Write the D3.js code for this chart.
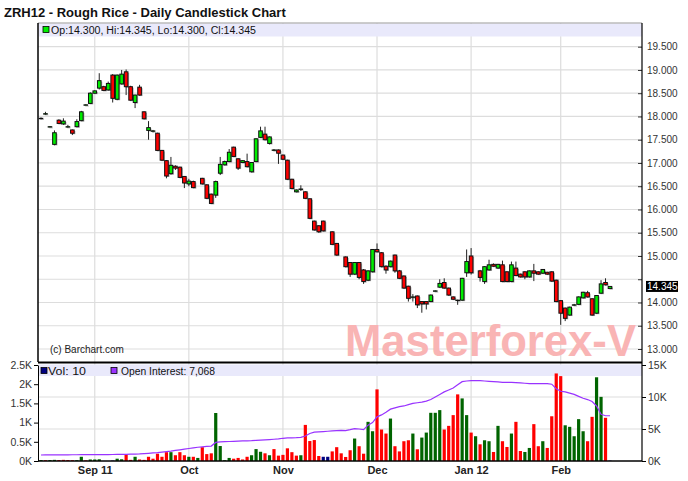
<!DOCTYPE html>
<html><head><meta charset="utf-8">
<script src="https://cdn.jsdelivr.net/npm/d3@7"></script>
<style>
body{margin:0;background:#fff;}
svg{display:block;font-family:"Liberation Sans",Arial,sans-serif;}
</style>
</head><body>
<svg id="chart" width="688" height="481"></svg>
<script>
// ---------- DATA ----------
const dates = [
"2011-08-16","2011-08-17","2011-08-18","2011-08-19","2011-08-22","2011-08-23","2011-08-24","2011-08-25","2011-08-26","2011-08-29","2011-08-30","2011-08-31",
"2011-09-01","2011-09-02","2011-09-06","2011-09-07","2011-09-08","2011-09-09","2011-09-12","2011-09-13","2011-09-14","2011-09-15","2011-09-16","2011-09-19","2011-09-20","2011-09-21","2011-09-22","2011-09-23","2011-09-26","2011-09-27","2011-09-28","2011-09-29","2011-09-30",
"2011-10-03","2011-10-04","2011-10-05","2011-10-06","2011-10-07","2011-10-10","2011-10-11","2011-10-12","2011-10-13","2011-10-14","2011-10-17","2011-10-18","2011-10-19","2011-10-20","2011-10-21","2011-10-24","2011-10-25","2011-10-26","2011-10-27","2011-10-28","2011-10-31",
"2011-11-01","2011-11-02","2011-11-03","2011-11-04","2011-11-07","2011-11-08","2011-11-09","2011-11-10","2011-11-11","2011-11-14","2011-11-15","2011-11-16","2011-11-17","2011-11-18","2011-11-21","2011-11-22","2011-11-23","2011-11-25","2011-11-28","2011-11-29","2011-11-30",
"2011-12-01","2011-12-02","2011-12-05","2011-12-06","2011-12-07","2011-12-08","2011-12-09","2011-12-12","2011-12-13","2011-12-14","2011-12-15","2011-12-16","2011-12-19","2011-12-20","2011-12-21","2011-12-22","2011-12-23","2011-12-27","2011-12-28","2011-12-29","2011-12-30",
"2012-01-03","2012-01-04","2012-01-05","2012-01-06","2012-01-09","2012-01-10","2012-01-11","2012-01-12","2012-01-13","2012-01-17","2012-01-18","2012-01-19","2012-01-20","2012-01-23","2012-01-24","2012-01-25","2012-01-26","2012-01-27","2012-01-30","2012-01-31",
"2012-02-01","2012-02-02","2012-02-03","2012-02-06","2012-02-07","2012-02-08","2012-02-09","2012-02-10","2012-02-13","2012-02-14","2012-02-15","2012-02-16"];

const open  = [17.96,18.05,17.78,17.40,17.92,17.84,17.78,17.71,17.78,17.91,18.25,18.28,18.50,18.61,18.64,18.57,18.89,18.37,18.70,18.96,18.64,18.30,18.63,18.10,17.70,17.69,17.64,17.27,17.05,16.77,16.93,16.91,16.71,
 16.55,16.60,null,16.67,16.53,16.33,16.31,16.78,16.96,17.03,17.34,17.09,17.01,17.03,16.81,17.03,17.55,17.62,17.42,17.28,17.28,17.17,
 17.06,16.65,16.38,16.44,16.38,16.23,15.75,15.65,15.75,null,15.52,15.27,null,14.98,14.86,14.61,14.86,14.70,14.48,14.66,
 15.14,15.07,14.78,14.77,15.02,14.68,14.57,14.35,14.12,14.14,14.02,14.02,14.02,14.25,14.33,14.43,14.31,14.12,14.05,14.05,14.64,
 15.00,null,14.68,14.45,14.70,14.82,14.74,14.81,14.66,14.45,14.74,14.61,14.66,14.55,14.68,14.66,14.63,14.65,14.66,14.48,
 14.04,13.88,13.73,13.95,13.96,14.10,14.21,14.08,13.77,14.20,14.43,14.30];
const high  = [17.98,18.10,17.79,17.70,17.94,17.96,17.82,17.72,17.94,18.12,18.26,18.52,18.56,18.93,18.66,18.75,18.91,18.90,19.00,19.01,18.66,18.47,18.68,18.11,17.90,17.71,17.65,17.28,17.06,17.13,16.95,16.92,16.72,
 16.66,16.62,null,16.68,16.54,16.34,16.62,17.13,17.05,17.30,17.35,17.10,17.06,17.20,17.02,17.53,17.78,17.78,17.57,17.30,17.29,17.18,
 17.07,16.66,16.43,16.52,16.39,16.24,15.76,15.66,15.76,null,15.53,15.28,null,14.99,14.87,14.87,14.87,14.72,14.69,15.15,
 15.27,15.08,14.80,14.90,15.03,14.70,14.58,14.36,14.18,14.15,14.03,14.03,14.17,14.26,14.50,14.52,14.32,14.13,14.06,14.53,15.14,
 15.17,null,14.70,14.78,14.92,14.84,14.83,14.90,14.67,14.88,14.88,14.62,14.67,14.69,14.83,14.67,14.72,14.66,14.67,14.49,
 14.05,13.89,13.91,13.97,14.13,14.23,14.25,14.09,14.16,14.48,14.52,14.345];
const low   = [17.94,18.04,17.77,17.38,17.84,17.82,17.76,17.60,17.77,17.90,18.24,18.27,18.49,18.58,18.55,18.56,18.30,18.35,18.69,18.46,18.34,18.18,18.45,17.94,17.50,17.66,17.26,17.05,16.67,16.75,16.85,16.68,16.46,
 16.50,16.46,null,16.54,16.23,16.12,16.25,16.74,16.95,17.02,17.13,16.85,17.00,16.91,16.80,17.02,17.54,17.49,17.40,17.26,16.98,17.07,
 16.64,16.44,16.37,16.40,16.23,15.80,15.55,15.50,15.53,null,15.24,15.01,null,14.76,14.55,14.60,14.50,14.40,14.46,14.65,
 15.08,14.76,14.62,14.76,14.64,14.51,14.30,14.02,14.02,13.88,13.78,13.85,14.01,14.24,14.32,14.30,14.15,14.06,13.95,14.04,14.55,
 14.60,null,14.45,14.40,14.69,14.77,14.73,14.44,14.44,14.44,14.57,14.54,14.50,14.54,14.46,14.60,14.62,14.60,14.45,14.01,
 13.52,13.60,13.72,13.93,13.95,14.09,14.11,13.72,13.76,14.19,14.37,14.30];
const close = [17.96,18.06,17.78,17.65,17.85,17.90,17.78,17.64,17.89,18.10,18.25,18.50,18.55,18.77,18.56,18.71,18.39,18.89,18.91,18.64,18.35,18.46,18.46,17.95,17.76,17.69,17.27,17.06,16.72,16.95,16.89,16.69,16.57,
 16.61,16.47,null,16.55,16.24,16.13,16.60,16.97,17.03,17.23,17.14,16.89,17.05,16.92,17.01,17.52,17.69,17.50,17.56,17.28,17.21,17.08,
 16.65,16.45,16.42,16.44,16.24,15.81,15.56,15.52,15.54,null,15.25,15.02,null,14.77,14.61,14.86,14.54,14.45,14.68,15.14,
 15.09,14.77,14.70,14.89,14.68,14.52,14.31,14.09,14.12,13.95,13.97,13.97,14.16,14.25,14.41,14.31,14.16,14.07,14.05,14.52,14.88,
 14.64,null,14.54,14.77,14.81,14.78,14.82,14.45,14.45,14.81,14.58,14.55,14.55,14.68,14.63,14.61,14.71,14.61,14.46,14.02,
 13.77,13.66,13.90,13.95,14.12,14.22,14.12,13.73,14.15,14.40,14.38,14.345];

const volume = [25,20,25,30,25,30,25,20,20,110,15,40,40,45,
 0,0,10,60,45,170,30,110,40,30,110,60,190,110,
 230,230,150,230,150,110,110,80,360,180,200,1250,390,20,
 80,60,80,40,110,150,310,240,200,150,310,140,160,330,
 230,140,150,940,520,545,130,110,110,250,360,200,
 105,280,585,385,190,1020,775,1865,820,715,1105,385,250,515,
 540,715,305,610,740,1255,1255,1325,820,915,1195,1735,1630,1195,
 740,645,435,540,515,235,915,515,365,715,1020,260,235,340,
 960,385,515,340,1165,2280,2210,930,890,645,1090,775,515,1150,2180,1670,1125,10];
// u = up day, d = down day, n = unchanged
const volDir = [
 "u","d","u","u","d","d","d","d","u","u","d","u","u","u",
 "n","n","n","u","u","d","d","u","d","d","d","d","d","d",
 "d","u","d","d","d","u","d","u","d","d","d","u","u","u",
 "u","d","d","d","d","u","u","u","d","u","d","d","d","d",
 "d","d","u","d","d","d","d","n","n","d","d","d",
 "d","d","u","d","d","u","u","d","d","d","u","d","d","d",
 "d","u","d","u","u","u","u","u","d","d","d","d","u","u",
 "d","u","d","u","u","d","u","d","d","u","d","d","u","u",
 "d","d","u","d","d","d","d","u","u","u","u","u","d","d","u","u","d","n"];

const openInterest = [940,945,950,955,960,965,970,975,980,985,990,995,1000,
 1000,1005,1010,1015,1020,1030,1040,1060,1080,1100,
 1150,1200,1260,1320,1400,1470,1550,1650,1750,1850,1950,2050,2150,2220,2280,2330,
 2900,3000,3020,3050,3080,3100,3130,3160,3180,3220,3260,3300,3350,3400,3450,3550,3600,3620,3650,3700,
 3900,4300,4500,4550,4600,4650,4700,4750,4800,
 4750,4900,5070,5000,4900,5600,6000,6900,7200,7600,8100,8300,8500,
 8600,8800,9000,9100,9200,9350,9600,10000,10400,10800,11100,11400,11900,12400,
 12500,12550,12550,12550,12500,12450,12400,12350,12300,12300,12300,12250,12200,12150,12100,12100,12100,12100,12100,
 12000,11300,10900,10800,10600,10400,10100,9800,9600,9300,8600,7300,7070,7068];

const monthTickDates  = ["2011-09-01","2011-10-03","2011-11-01","2011-12-01","2012-01-03","2012-02-01"];
const monthTickLabels = ["Sep 11","Oct","Nov","Dec","Jan 12","Feb"];
const priceTicks = [13,13.5,14,14.5,15,15.5,16,16.5,17,17.5,18,18.5,19,19.5];
const volTicks = [0,500,1000,1500,2000,2500];
const oiTicks = [0,5000,10000,15000];
const lastQuote = {o:"14.300",h:"14.345",l:"14.300",c:"14.345",vol:"10",oi:"7,068"};

// ---------- LAYOUT ----------
const svg = d3.select("#chart");
const L = 38, R = 642, mainTop = 23, mainBot = 362, volTop = 363, volBot = 461;
const x = d3.scalePoint().domain(dates).range([41, 610]);
const yP = d3.scaleLinear().domain([13, 19.5]).range([349, 46.7]);
const yV = d3.scaleLinear().domain([0, 2500]).range([volBot, 365]);
const yOI = d3.scaleLinear().domain([0, 15000]).range([volBot, 365]);
const cols = {up:"#00ee00", down:"#ff0000", vu:"#006400", vd:"#ff0000", vn:"#000080", oi:"#9933ff", grid:"#dddddd"};
const lastClose = close[close.length-1];

// title
svg.append("text").attr("x",4).attr("y",17).attr("font-size",13).attr("font-weight","bold")
  .attr("fill","#111").text("ZRH12 - Rough Rice - Daily Candlestick Chart");

// price grid
svg.append("g").selectAll("line").data(priceTicks).join("line")
  .attr("x1",L).attr("x2",R).attr("y1",d=>yP(d)).attr("y2",d=>yP(d))
  .attr("stroke",cols.grid).attr("stroke-width",1.2);
svg.append("g").selectAll("line").data(monthTickDates).join("line")
  .attr("x1",d=>x(d)).attr("x2",d=>x(d)).attr("y1",mainTop).attr("y2",mainBot)
  .attr("stroke",cols.grid).attr("stroke-width",1.2);

// legend band main
svg.append("rect").attr("x",L+1).attr("y",mainTop+0.5).attr("width",R-L-1).attr("height",13).attr("fill","#e9e9fb");
svg.append("rect").attr("x",43).attr("y",26.5).attr("width",6).attr("height",6).attr("fill","#00ee00").attr("stroke","#000").attr("stroke-width",0.8);
svg.append("text").attr("x",51).attr("y",33.5).attr("font-size",10).attr("fill","#111")
  .attr("textLength",205).attr("lengthAdjust","spacingAndGlyphs")
  .text(`Op:${lastQuote.o}, Hi:${lastQuote.h}, Lo:${lastQuote.l}, Cl:${lastQuote.c}`);

// watermark
svg.append("text").attr("x",345).attr("y",356).attr("font-size",45).attr("font-weight","bold")
  .attr("fill","#f9b4b4").attr("textLength",291).attr("lengthAdjust","spacingAndGlyphs")
  .text("Masterforex-V");

svg.append("text").attr("x",50).attr("y",353).attr("font-size",10).attr("fill","#222").text("(c) Barchart.com");

// candles
const idx = d3.range(dates.length).filter(i => open[i] != null);
const cg = svg.append("g");
const bw = 3.6;
cg.selectAll("rect.sh").data(idx).join("rect").attr("class","sh")
  .attr("x",i=>x(dates[i])-bw/2+1.2).attr("y",i=>yP(Math.max(open[i],close[i]))+1)
  .attr("width",bw).attr("height",i=>Math.max(0.6,Math.abs(yP(open[i])-yP(close[i]))))
  .attr("fill","#aaa");
cg.selectAll("line.wk").data(idx).join("line").attr("class","wk")
  .attr("x1",i=>x(dates[i])).attr("x2",i=>x(dates[i]))
  .attr("y1",i=>yP(high[i])).attr("y2",i=>yP(low[i]))
  .attr("stroke","#222").attr("stroke-width",1);
cg.selectAll("rect.bd").data(idx).join("rect").attr("class","bd")
  .attr("x",i=>x(dates[i])-bw/2).attr("y",i=>yP(Math.max(open[i],close[i])))
  .attr("width",bw).attr("height",i=>Math.max(0.4,Math.abs(yP(open[i])-yP(close[i]))))
  .attr("fill",i=>close[i]>=open[i]?cols.up:cols.down)
  .attr("stroke","#111").attr("stroke-width",1);

// main panel frame
svg.append("line").attr("x1",L).attr("x2",R).attr("y1",mainTop).attr("y2",mainTop).attr("stroke","#999");
svg.append("line").attr("x1",L).attr("x2",L).attr("y1",mainTop).attr("y2",mainBot).attr("stroke","#000").attr("stroke-width",1.5);

// price axis (right); the label hidden by the last-price tag is omitted
const pAxis = d3.axisRight(yP).tickValues(priceTicks)
  .tickFormat(d => Math.abs(yP(d)-yP(lastClose)) < 10 ? "" : d3.format(".3f")(d))
  .tickSizeInner(-4).tickSizeOuter(0).tickPadding(5);
const pg = svg.append("g").attr("transform",`translate(${R},0)`).call(pAxis);
pg.select(".domain").remove();
pg.selectAll("text").attr("font-size",10).attr("fill","#333").attr("font-family","Liberation Sans, Arial, sans-serif");
pg.selectAll("line").attr("stroke","#333");

// last price tag
const lastY = yP(lastClose);
svg.append("rect").attr("x",646).attr("y",lastY-5.5).attr("width",32).attr("height",11).attr("fill","#000");
svg.append("text").attr("x",647).attr("y",lastY+3.6).attr("font-size",10).attr("fill","#fff").text(lastQuote.c);

// ---------- VOLUME PANEL ----------
svg.append("g").selectAll("line").data(oiTicks.filter(d=>d>0&&d<15000)).join("line")
  .attr("x1",L).attr("x2",R).attr("y1",d=>yOI(d)).attr("y2",d=>yOI(d))
  .attr("stroke",cols.grid).attr("stroke-width",1.2);
svg.append("g").selectAll("line").data(monthTickDates).join("line")
  .attr("x1",d=>x(d)).attr("x2",d=>x(d)).attr("y1",volTop).attr("y2",volBot)
  .attr("stroke",cols.grid).attr("stroke-width",1.2);
svg.append("rect").attr("x",L+1).attr("y",volTop+1.5).attr("width",R-L-1).attr("height",11.5).attr("fill","#e9e9fb");

const vIdx = d3.range(dates.length);
svg.append("g").selectAll("rect").data(vIdx).join("rect")
  .attr("x",i=>x(dates[i])-1.6).attr("y",i=>yV(volume[i]))
  .attr("width",3.2).attr("height",i=>volBot-yV(volume[i]))
  .attr("fill",i=>volDir[i]==="u"?cols.vu:volDir[i]==="d"?cols.vd:cols.vn);

const oiLine = d3.line().x((d,i)=>x(dates[i])).y(d=>yOI(d));
svg.append("path").datum(openInterest).attr("d",oiLine).attr("fill","none")
  .attr("stroke",cols.oi).attr("stroke-width",1.2);

// legend volume
svg.append("rect").attr("x",41).attr("y",367.5).attr("width",6).attr("height",6).attr("fill","#000080").attr("stroke","#000").attr("stroke-width",0.8);
svg.append("text").attr("x",48).attr("y",374.5).attr("font-size",10).attr("fill","#111")
  .attr("textLength",38).attr("lengthAdjust","spacingAndGlyphs").text(`Vol: ${lastQuote.vol}`);
svg.append("rect").attr("x",111).attr("y",367.5).attr("width",6).attr("height",6).attr("fill","#9933ff").attr("stroke","#000").attr("stroke-width",0.8);
svg.append("text").attr("x",121).attr("y",374.5).attr("font-size",10).attr("fill","#111")
  .attr("textLength",94).attr("lengthAdjust","spacingAndGlyphs").text(`Open Interest: ${lastQuote.oi}`);

// separator
svg.append("line").attr("x1",L).attr("x2",R).attr("y1",mainBot+0.5).attr("y2",mainBot+0.5).attr("stroke","#000").attr("stroke-width",2);

// volume axes
const vAxis = d3.axisLeft(yV).tickValues(volTicks).tickFormat(d=>(d/1000)+"K").tickSizeInner(4).tickSizeOuter(0).tickPadding(2);
const vg = svg.append("g").attr("transform",`translate(${L},0)`).call(vAxis);
vg.select(".domain").attr("stroke","#000");
vg.selectAll("text").attr("font-size",10.5).attr("fill","#333").attr("font-family","Liberation Sans, Arial, sans-serif");

const oAxis = d3.axisRight(yOI).tickValues(oiTicks).tickFormat(d=>(d/1000)+"K").tickSizeInner(4).tickSizeOuter(0).tickPadding(2);
const og = svg.append("g").attr("transform",`translate(${R},0)`).call(oAxis);
og.selectAll("text").attr("font-size",10.5).attr("fill","#333").attr("font-family","Liberation Sans, Arial, sans-serif");
og.select(".domain").remove();

svg.append("line").attr("x1",R).attr("x2",R).attr("y1",mainTop).attr("y2",volBot).attr("stroke","#000").attr("stroke-width",1.2);

// x axis
const xAxis = d3.axisBottom(x).tickValues(monthTickDates)
  .tickFormat(d=>monthTickLabels[monthTickDates.indexOf(d)]).tickSize(0).tickPadding(5);
const xg = svg.append("g").attr("transform",`translate(0,${volBot})`).call(xAxis);
xg.select(".domain").attr("d",`M${L},0H${R}`).attr("stroke","#000").attr("stroke-width",1.5);
xg.selectAll("text").attr("font-size",11).attr("font-weight","bold").attr("fill","#222")
  .attr("font-family","Liberation Sans, Arial, sans-serif");
</script>
</body></html>
